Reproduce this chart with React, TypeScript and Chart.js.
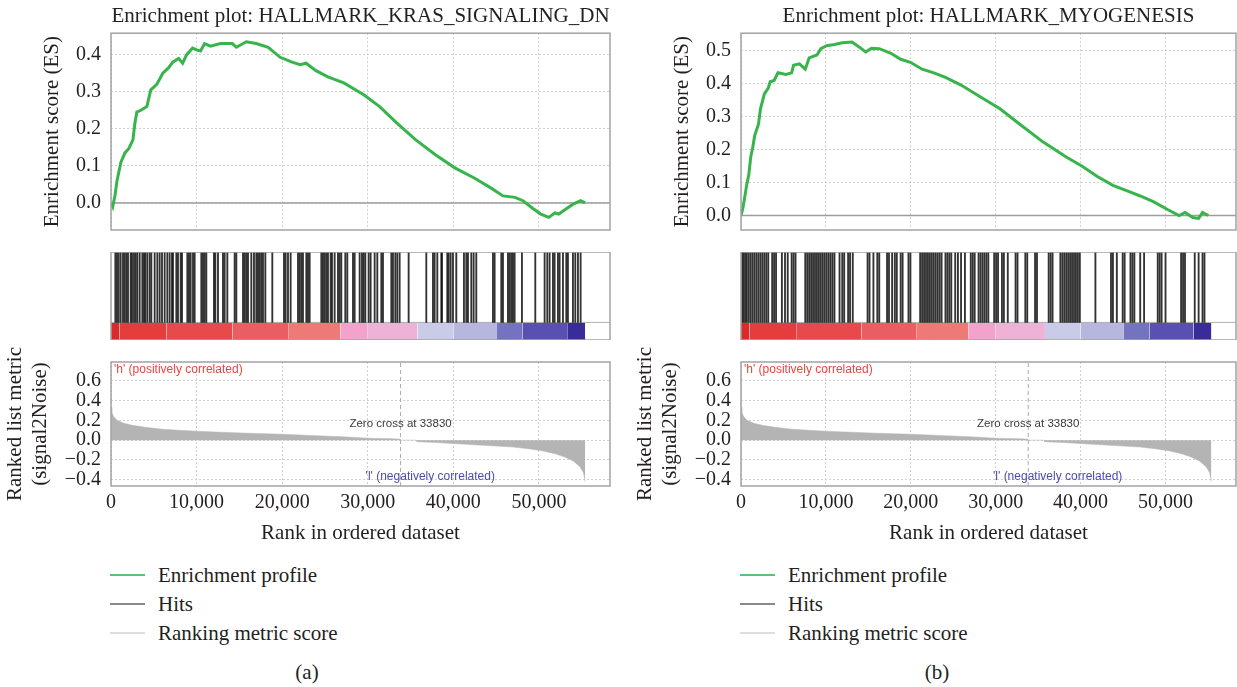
import React, { useEffect, useRef } from 'react';
import { Chart, registerables } from 'chart.js';

Chart.register(...registerables);

// ---------- data ----------
const xMax = 58300;
const xTickValues = [0, 10000, 20000, 30000, 40000, 50000];
const zeroCross = 33830;

const titles = ['Enrichment plot: HALLMARK_KRAS_SIGNALING_DN', 'Enrichment plot: HALLMARK_MYOGENESIS'];
const captions = ['(a)', '(b)'];

const esRanksKras = [0, 200, 465, 700, 1160, 1630, 2090, 2560, 2790, 3020, 3490, 4190, 4650, 5350, 6050, 6740, 7210, 7900, 8370, 8840, 9530, 10000, 10460, 10930, 11630, 12790, 14180, 14650, 15810, 16970, 18370, 19760, 21160, 22090, 22790, 23950, 25340, 27200, 29530, 31390, 33250, 35570, 37900, 40220, 42550, 44410, 45800, 47200, 48130, 49290, 50220, 51150, 51850, 52310, 53240, 53940, 54870, 55400];
const esValuesKras = [0.0, -0.01, 0.02, 0.06, 0.11, 0.135, 0.147, 0.17, 0.215, 0.245, 0.25, 0.26, 0.305, 0.32, 0.35, 0.365, 0.38, 0.39, 0.377, 0.4, 0.418, 0.413, 0.41, 0.43, 0.423, 0.43, 0.43, 0.42, 0.435, 0.43, 0.42, 0.393, 0.38, 0.373, 0.377, 0.357, 0.34, 0.324, 0.292, 0.26, 0.219, 0.171, 0.13, 0.094, 0.066, 0.04, 0.019, 0.015, 0.006, -0.015, -0.03, -0.039, -0.027, -0.03, -0.015, -0.004, 0.006, 0.0];

const esRanksMyo = [0, 229, 459, 688, 917, 1147, 1376, 1605, 2064, 2294, 2752, 3211, 3440, 3899, 4358, 5275, 5963, 6192, 6881, 7569, 8027, 8945, 9403, 10091, 11009, 11926, 13073, 13990, 14678, 15366, 16284, 17660, 18807, 19953, 21330, 22706, 24082, 25917, 28210, 30504, 32797, 35549, 38301, 40136, 41971, 43806, 45641, 47017, 48622, 50228, 51604, 52292, 53210, 53898, 54357, 55045];
const esValuesMyo = [0.0, 0.023, 0.059, 0.095, 0.123, 0.177, 0.205, 0.241, 0.277, 0.323, 0.368, 0.386, 0.405, 0.409, 0.432, 0.427, 0.432, 0.455, 0.459, 0.443, 0.477, 0.486, 0.505, 0.514, 0.518, 0.523, 0.525, 0.509, 0.495, 0.506, 0.505, 0.491, 0.473, 0.464, 0.443, 0.432, 0.418, 0.395, 0.359, 0.323, 0.277, 0.223, 0.177, 0.15, 0.118, 0.091, 0.073, 0.059, 0.041, 0.018, 0.0, 0.009, -0.006, -0.009, 0.009, 0.0];

const hitsKras = [507, 701, 896, 1130, 1402, 1597, 1792, 1986, 2298, 2454, 2687, 2882, 3077, 3349, 3661, 3855, 4011, 4245, 4518, 4712, 5102, 5413, 5686, 5958, 6270, 6581, 6854, 7126, 7243, 7633, 7827, 8139, 8295, 8918, 9112, 9307, 9580, 9774, 10553, 10748, 10943, 11137, 12033, 12189, 12500, 13084, 13279, 13591, 14447, 14642, 15421, 15615, 15810, 16005, 16394, 16706, 16978, 17173, 17368, 17562, 17757, 18030, 18847, 20210, 20405, 20678, 20989, 21846, 22041, 22236, 22430, 22820, 23014, 23209, 24572, 24766, 24961, 25156, 25350, 25662, 25818, 26129, 26518, 26713, 26908, 27375, 27609, 28271, 28466, 29050, 29322, 29517, 29712, 30101, 30335, 30802, 31114, 31581, 31776, 32749, 32944, 33217, 33450, 33723, 34774, 36838, 37617, 37811, 38123, 38590, 38668, 39291, 39447, 39680, 39953, 40342, 41238, 41510, 41705, 42094, 42367, 42678, 44625, 44820, 45599, 45794, 46378, 46573, 46767, 46962, 47157, 48013, 49571, 50661, 50973, 51245, 51635, 51830, 52219, 52414, 52803, 53192, 53387, 53971, 54244, 54555, 54867];

const hitsMyo = [138, 321, 505, 688, 917, 1147, 1376, 1605, 1835, 2064, 2294, 2523, 2752, 2982, 3211, 3670, 3899, 4128, 4816, 5183, 5504, 5963, 6192, 6422, 7569, 7798, 8027, 8257, 8486, 8715, 8945, 9174, 9403, 9633, 9862, 10091, 10321, 10550, 10779, 11009, 11605, 11926, 12156, 12614, 12844, 13165, 14908, 15137, 15596, 16055, 16284, 17201, 17431, 17798, 18119, 18348, 18807, 19036, 19724, 19953, 21100, 21330, 21559, 21788, 22018, 22247, 22476, 22706, 22935, 23164, 23394, 23623, 24082, 24311, 24540, 24770, 25229, 25550, 25917, 26375, 27063, 27293, 27522, 27981, 28210, 28439, 28669, 28898, 29127, 29816, 30045, 30274, 30733, 30962, 31421, 32338, 32568, 33485, 33714, 34632, 34861, 36237, 36467, 36696, 37613, 37843, 38072, 38301, 38531, 38760, 38990, 39219, 39448, 39678, 39907, 41742, 43577, 43806, 44265, 44953, 45183, 45871, 46100, 46329, 47017, 47476, 49081, 49311, 49540, 49999, 51834, 52063, 52292, 53439, 53898, 54357, 54587];

const metricRanks = [0, 100, 300, 700, 1500, 2500, 4000, 6000, 8000, 10000, 13000, 16000, 20000, 24000, 27000, 30000, 33000, 33800, 33830, 35700, 35750, 38000, 40000, 43000, 45000, 47000, 49000, 50500, 52000, 53000, 54000, 54800, 55200, 55400];
const metricValues = [0.33, 0.28, 0.24, 0.2, 0.17, 0.15, 0.13, 0.11, 0.1, 0.09, 0.08, 0.07, 0.06, 0.045, 0.035, 0.02, 0.013, 0.01, 0.0, 0.0, -0.015, -0.025, -0.035, -0.05, -0.06, -0.07, -0.09, -0.11, -0.14, -0.17, -0.21, -0.27, -0.33, -0.42];

const barEdges = [0, 1000, 6500, 14200, 20700, 26800, 30000, 35800, 40000, 45100, 48100, 53300, 55400];
const barColors = ['#dc2a2a', '#e53c3c', '#e84a4b', '#ea5d61', '#ee7a75', '#f3a2cc', '#efb2d6', '#cacae9', '#b6b6df', '#7473c0', '#5a50b2', '#3a2b9b'];

const esRangeKras = [-0.073, 0.458];
const esRangeMyo = [-0.044, 0.552];
const metricRange = [-0.463, 0.789];

const legendLabels = ['Enrichment profile', 'Hits', 'Ranking metric score'];
const legendColors = ['#5bc27a', '#8a8a8a', '#dedede'];

const posLabel = "'h' (positively correlated)";
const negLabel = "'l' (negatively correlated)";

// ---------- styling ----------
const SERIF = '"Liberation Serif", "Times New Roman", serif';
const SANS = '"Liberation Sans", Arial, sans-serif';
const TEXT = '#231f20';
const GRID = '#d0d0d0';

const figures = [
  { left: 0, width: 620, padR: 10, title: titles[0], esRanks: esRanksKras, esValues: esValuesKras, esRange: esRangeKras, hits: hitsKras, caption: captions[0] },
  { left: 630, width: 607, padR: 1, title: titles[1], esRanks: esRanksMyo, esValues: esValuesMyo, esRange: esRangeMyo, hits: hitsMyo, caption: captions[1] },
];

const framePlugin = {
  id: 'frame',
  afterDatasetsDraw(chart: any) {
    const { ctx, chartArea: a } = chart;
    ctx.save();
    ctx.strokeStyle = '#a3a3a3';
    ctx.lineWidth = 1.5;
    ctx.strokeRect(a.left, a.top, a.right - a.left, a.bottom - a.top);
    ctx.restore();
  },
};

const rankTextPlugin = {
  id: 'rankText',
  afterDatasetsDraw(chart: any) {
    const { ctx, chartArea: a, scales } = chart;
    const x = scales.x;
    const y = scales.y;
    ctx.save();
    ctx.textBaseline = 'middle';
    ctx.font = `12px ${SANS}`;
    ctx.textAlign = 'left';
    ctx.fillStyle = '#e8473d';
    ctx.fillText(posLabel, a.left + 3, a.top + 8);
    ctx.textAlign = 'center';
    ctx.font = `11.5px ${SANS}`;
    ctx.fillStyle = '#3a3a3a';
    ctx.fillText(`Zero cross at ${zeroCross}`, x.getPixelForValue(zeroCross), y.getPixelForValue(0.165));
    ctx.font = `12px ${SANS}`;
    ctx.fillStyle = '#4b4bb5';
    ctx.fillText(negLabel, x.getPixelForValue(37300), y.getPixelForValue(-0.37));
    ctx.restore();
  },
};

const fmt = (v: any) => {
  const n = Number(v);
  const s = Math.abs(n).toFixed(1);
  return n < -1e-9 ? '\u2212' + s : s;
};

const xScale = (showTicks: boolean) => ({
  type: 'linear',
  min: 0,
  max: xMax,
  offset: false,
  afterBuildTicks: (s: any) => { s.ticks = xTickValues.map((v) => ({ value: v })); },
  ticks: {
    display: showTicks,
    autoSkip: false,
    maxRotation: 0,
    font: { family: SERIF, size: 20, lineHeight: 1.2 },
    color: TEXT,
    padding: 5,
    callback: (v: any) => Number(v).toLocaleString('en-US'),
  },
  grid: { color: GRID, lineWidth: 1, drawTicks: false },
  border: { display: false, dash: [2, 2] },
  title: showTicks
    ? { display: true, text: 'Rank in ordered dataset', color: TEXT, font: { family: SERIF, size: 21, lineHeight: 1.2 }, padding: { top: 6, bottom: 0 } }
    : { display: false },
  afterFit: (s: any) => { s.height = showTicks ? 60 : 0; },
});

function esConfig(fig: any) {
  return {
    type: 'line',
    data: {
      datasets: [
        {
          data: fig.esRanks.map((r: number, i: number) => ({ x: r, y: fig.esValues[i] })),
          borderColor: '#37b44b',
          borderWidth: 3,
          pointRadius: 0,
          tension: 0,
        },
        {
          data: [{ x: 0, y: 0 }, { x: xMax, y: 0 }],
          borderColor: '#9d9d9d',
          borderWidth: 1.5,
          pointRadius: 0,
        },
      ],
    },
    options: {
      animation: false,
      responsive: false,
      devicePixelRatio: 1,
      layout: { padding: { left: 0, right: fig.padR, top: 0, bottom: 0 } },
      plugins: {
        legend: { display: false },
        tooltip: { enabled: false },
        title: {
          display: true,
          text: fig.title,
          color: TEXT,
          fullSize: false,
          font: { family: SERIF, size: 21, weight: 'normal', lineHeight: 1.2 },
          padding: { top: 4, bottom: 4 },
        },
      },
      scales: {
        x: xScale(false),
        y: {
          min: fig.esRange[0],
          max: fig.esRange[1],
          ticks: { stepSize: 0.1, includeBounds: false, autoSkip: false, font: { family: SERIF, size: 20, lineHeight: 1.2 }, color: TEXT, padding: 10, callback: fmt },
          grid: { color: GRID, lineWidth: 1, drawTicks: false },
          border: { display: false, dash: [2, 2] },
          title: { display: true, text: 'Enrichment score (ES)', color: TEXT, font: { family: SERIF, size: 21, lineHeight: 1.2 }, padding: { top: 40, bottom: 0 } },
          afterFit: (s: any) => { s.width = 111; },
        },
      },
    },
    plugins: [framePlugin],
  };
}

function hitsConfig(fig: any) {
  const segs = barEdges.slice(0, -1).map((s, i) => ({
    type: 'line',
    data: [{ x: s, y: 0.2 }, { x: barEdges[i + 1], y: 0.2 }],
    fill: 'origin',
    backgroundColor: barColors[i],
    borderColor: barColors[i],
    borderWidth: 0,
    pointRadius: 0,
  }));
  return {
    type: 'bar',
    data: {
      datasets: [
        {
          type: 'bar',
          data: fig.hits.map((r: number) => ({ x: r, y: [0.2, 1] })),
          backgroundColor: 'rgba(15,15,15,0.85)',
          barThickness: 1.2,
          grouped: false,
          borderWidth: 0,
        },
        {
          type: 'line',
          data: [{ x: 0, y: 0.2 }, { x: xMax, y: 0.2 }],
          borderColor: '#b0b0b0',
          borderWidth: 1,
          pointRadius: 0,
          fill: false,
        },
        ...segs,
      ],
    },
    options: {
      animation: false,
      responsive: false,
      devicePixelRatio: 1,
      layout: { padding: { left: 111, right: fig.padR, top: 0, bottom: 0 } },
      plugins: { legend: { display: false }, tooltip: { enabled: false } },
      scales: {
        x: { type: 'linear', min: 0, max: xMax, offset: false, display: false },
        y: { min: 0, max: 1, display: false },
      },
    },
    plugins: [framePlugin],
  };
}

function rankConfig(fig: any) {
  return {
    type: 'line',
    data: {
      datasets: [
        {
          data: [{ x: zeroCross, y: metricRange[0] }, { x: zeroCross, y: metricRange[1] }],
          borderColor: '#ababab',
          borderWidth: 1,
          borderDash: [4, 3],
          pointRadius: 0,
        },
        {
          data: metricRanks.map((r, i) => ({ x: r, y: metricValues[i] })),
          fill: 'origin',
          backgroundColor: '#b4b4b4',
          borderColor: '#b4b4b4',
          borderWidth: 0.5,
          pointRadius: 0,
          tension: 0,
        },
      ],
    },
    options: {
      animation: false,
      responsive: false,
      devicePixelRatio: 1,
      layout: { padding: { left: 0, right: fig.padR, top: 0, bottom: 0 } },
      plugins: { legend: { display: false }, tooltip: { enabled: false } },
      scales: {
        x: xScale(true),
        y: {
          min: metricRange[0],
          max: metricRange[1],
          ticks: { stepSize: 0.2, includeBounds: false, autoSkip: false, font: { family: SERIF, size: 20, lineHeight: 1.2 }, color: TEXT, padding: 10, callback: fmt },
          grid: { color: GRID, lineWidth: 1, drawTicks: false },
          border: { display: false, dash: [2, 2] },
          title: { display: true, text: ['Ranked list metric', '(signal2Noise)'], color: TEXT, font: { family: SERIF, size: 21, lineHeight: 1.2 }, padding: { top: 3, bottom: 0 } },
          afterFit: (s: any) => { s.width = 111; },
        },
      },
    },
    plugins: [framePlugin, rankTextPlugin],
  };
}

const ES_H = 252;
const HIT_TOP = 252;
const HIT_H = 88;
const RANK_TOP = 340;
const RANK_H = 206;

export default function App() {
  const refs = useRef<(HTMLCanvasElement | null)[]>([]);

  useEffect(() => {
    const charts: Chart[] = [];
    figures.forEach((fig, fi) => {
      const es = refs.current[fi * 3];
      const hit = refs.current[fi * 3 + 1];
      const rank = refs.current[fi * 3 + 2];
      if (es) charts.push(new Chart(es, esConfig(fig) as any));
      if (hit) charts.push(new Chart(hit, hitsConfig(fig) as any));
      if (rank) charts.push(new Chart(rank, rankConfig(fig) as any));
    });
    return () => charts.forEach((c) => c.destroy());
  }, []);

  return (
    <div style={{ position: 'fixed', left: 0, top: 0, width: 1237, height: 687, background: '#fff', overflow: 'hidden' }}>
      {figures.map((fig, fi) => (
        <React.Fragment key={fi}>
          <canvas
            ref={(el) => { refs.current[fi * 3] = el; }}
            width={fig.width}
            height={ES_H}
            style={{ position: 'absolute', left: fig.left, top: 0, width: fig.width, height: ES_H }}
          />
          <canvas
            ref={(el) => { refs.current[fi * 3 + 1] = el; }}
            width={fig.width}
            height={HIT_H}
            style={{ position: 'absolute', left: fig.left, top: HIT_TOP, width: fig.width, height: HIT_H }}
          />
          <canvas
            ref={(el) => { refs.current[fi * 3 + 2] = el; }}
            width={fig.width}
            height={RANK_H}
            style={{ position: 'absolute', left: fig.left, top: RANK_TOP, width: fig.width, height: RANK_H }}
          />
          {legendLabels.map((lab, i) => (
            <div
              key={i}
              style={{
                position: 'absolute',
                left: fig.left + 110,
                top: 575 + i * 29 - 13,
                height: 26,
                display: 'flex',
                alignItems: 'center',
                fontFamily: SERIF,
                fontSize: 21,
                color: TEXT,
                whiteSpace: 'nowrap',
              }}
            >
              <span style={{ display: 'inline-block', width: 35, height: 2, background: legendColors[i], marginRight: 13 }} />
              {lab}
            </div>
          ))}
          <div
            style={{
              position: 'absolute',
              left: fig.left + 257,
              width: 100,
              top: 659,
              height: 26,
              lineHeight: '26px',
              textAlign: 'center',
              fontFamily: SERIF,
              fontSize: 21,
              color: TEXT,
            }}
          >
            {fig.caption}
          </div>
        </React.Fragment>
      ))}
    </div>
  );
}
